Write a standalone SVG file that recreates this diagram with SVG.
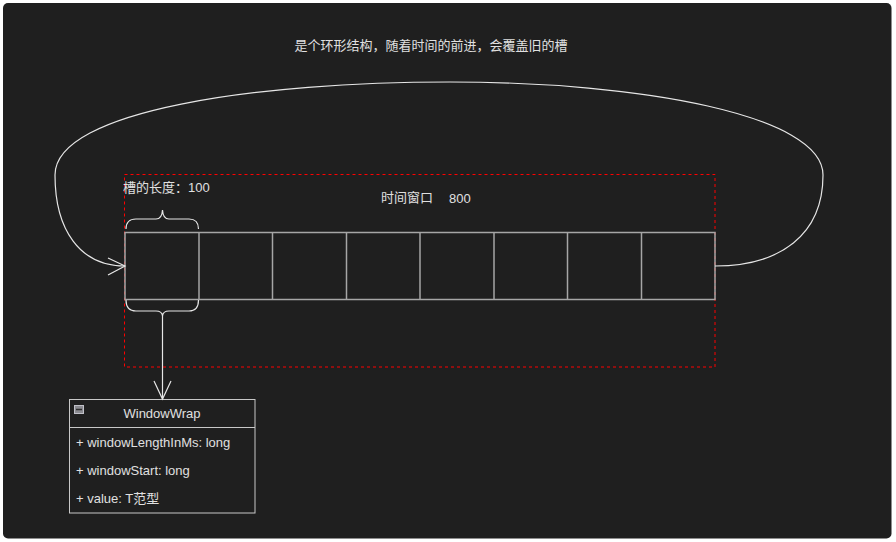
<svg xmlns="http://www.w3.org/2000/svg" width="896" height="542" viewBox="0 0 896 542">
<style>
.t{font-family:"Liberation Sans","Noto Sans CJK SC",sans-serif;font-size:13px;fill:#e0e0e0}
.cell{fill:none;stroke:#a6a6a6;stroke-width:1.5}
.ln{fill:none;stroke:#e6e6e6;stroke-width:1.2}
</style>
<rect x="0" y="0" width="896" height="542" fill="#ffffff"/>
<rect x="3" y="3" width="888.5" height="535.5" rx="5" fill="#1f1f1f"/>
<text class="t" x="431" y="50" text-anchor="middle">是个环形结构，随着时间的前进，会覆盖旧的槽</text>
<g id="window">
<rect x="124.5" y="174.5" width="590.5" height="192.5" fill="none" stroke="#ff0000" stroke-width="1" stroke-dasharray="3 3"/>
<text class="t" x="381" y="202">时间窗口</text>
<text class="t" x="449" y="203">800</text>
</g>
<g id="slots">
<rect class="cell" x="125" y="232.5" width="590" height="67"/>
<line class="cell" x1="199" y1="232.5" x2="199" y2="299.5"/>
<line class="cell" x1="272.5" y1="232.5" x2="272.5" y2="299.5"/>
<line class="cell" x1="346.5" y1="232.5" x2="346.5" y2="299.5"/>
<line class="cell" x1="420" y1="232.5" x2="420" y2="299.5"/>
<line class="cell" x1="494" y1="232.5" x2="494" y2="299.5"/>
<line class="cell" x1="567.5" y1="232.5" x2="567.5" y2="299.5"/>
<line class="cell" x1="641.5" y1="232.5" x2="641.5" y2="299.5"/>
</g>
<g id="slot-length">
<text class="t" x="123" y="192">槽的长度：100</text>
<path class="ln" d="M126,229 Q126,219 136,219 L156,219 Q162,219 162.5,210 Q163,219 169,219 L189,219 Q198.5,219 198.5,229"/>
</g>
<g id="WindowWrap">
<rect x="69.5" y="399.5" width="185.5" height="113.5" fill="#1f1f1f" stroke="#c8c8c8" stroke-width="1"/>
<line x1="69.5" y1="427.5" x2="255" y2="427.5" stroke="#c8c8c8" stroke-width="1"/>
<rect x="74.5" y="405.5" width="9" height="8" fill="#8a8a90" stroke="#c0c0c8" stroke-width="1"/>
<line x1="76" y1="409.5" x2="82" y2="409.5" stroke="#303030" stroke-width="1.5"/>
<text class="t" x="162" y="418" text-anchor="middle">WindowWrap</text>
<text class="t" x="76" y="447">+ windowLengthInMs: long</text>
<text class="t" x="76" y="475">+ windowStart: long</text>
<text class="t" x="76" y="503">+ value: T范型</text>
</g>
<g id="connectors">
<path class="ln" d="M715,266 C780,266 823,235 823,175 C823,115 640,82 450,82 C260,82 55,110 55,175 C55,230 80,266 125,266"/>
<path class="ln" d="M108,258 L125,266 L108,275"/>
<path class="ln" d="M126,300 Q126,311 136,311 L156,311 Q162,311 162.5,316 Q163,311 169,311 L189,311 Q198.5,311 198.5,300"/>
<line class="ln" x1="162.5" y1="316" x2="162.5" y2="399"/>
<path class="ln" d="M154,381 L162.5,399 L171,381"/>
</g>
</svg>
